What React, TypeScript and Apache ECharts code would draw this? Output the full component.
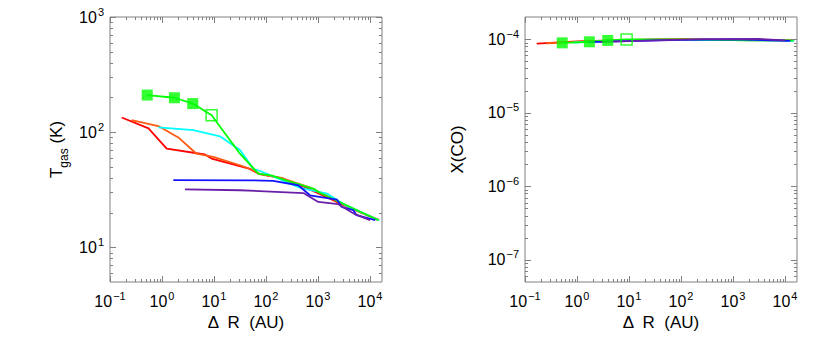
import React, { useEffect, useRef } from 'react';
import * as echarts from 'echarts';

// ---- axis ranges / ticks ----
const xRange: [number, number] = [0.1, 17000];
const tRange: [number, number] = [5, 1000];
const coRange: [number, number] = [5e-8, 2e-4];
const xMajorTicks = [0.1, 1, 10, 100, 1000, 10000];
const tMajorTicks = [10, 100, 1000];
const coMajorTicks = [1e-7, 1e-6, 1e-5, 1e-4];

// ---- left panel: T_gas (K) vs Delta R (AU) ----
const tRed = [[0.168, 134], [0.55, 108], [1.23, 72], [6.7, 64], [9, 59], [49, 48], [71, 43.7], [214, 39.5], [270, 37], [500, 34], [1000, 29.5], [3000, 23.5], [6000, 20.5], [14500, 17.2]];
const tOrange = [[0.26, 127], [0.85, 113], [2.06, 90], [4.6, 65], [9.7, 61], [31.6, 51.6], [49, 48], [80, 43], [200, 40], [300, 37.5], [700, 33], [1500, 28], [4000, 22], [15000, 17.3]];
const tCyan = [[0.85, 110], [4, 104], [13, 92], [31.6, 70], [57, 48], [77, 46], [214, 38], [447, 33], [1480, 29.3], [3500, 23], [15000, 17.2]];
const tGreen = [[0.52, 210], [1.73, 199], [3.9, 177], [9, 140], [31.6, 65], [71, 43.7], [130, 42], [250, 38], [815, 32.4], [1100, 29.6], [3000, 24], [14500, 17.2]];
const tBlue = [[1.65, 38.3], [50, 38.2], [137, 37.8], [417, 34.6], [700, 28.3], [2300, 26], [2860, 22.4], [4800, 21], [5500, 19], [12600, 17.2]];
const tPurple = [[2.77, 31.8], [31.6, 31.3], [525, 29.6], [1013, 24.8], [2450, 23.7], [5130, 19.4], [10000, 17.2]];
const tFilled = [[0.52, 210], [1.73, 199], [3.9, 177]];
const tOpen = [[9, 140]];

// ---- right panel: X(CO) vs Delta R (AU) ----
const coRed = [[0.168, 8.7e-5], [1, 9.3e-5], [10, 9.8e-5], [100, 1.0e-4], [1000, 9.8e-5], [14500, 9.6e-5]];
const coOrange = [[0.26, 8.8e-5], [1, 9.2e-5], [10, 9.7e-5], [100, 9.9e-5], [1000, 9.7e-5], [15000, 9.6e-5]];
const coCyan = [[0.85, 9.0e-5], [10, 9.6e-5], [100, 9.8e-5], [1000, 9.7e-5], [15000, 9.5e-5]];
const coGreen = [[0.52, 8.9e-5], [1.73, 9.2e-5], [3.9, 9.6e-5], [9, 9.9e-5], [100, 9.9e-5], [2000, 9.6e-5], [14500, 9.6e-5]];
const coBlue = [[1.65, 9.1e-5], [10, 9.4e-5], [100, 9.8e-5], [1000, 9.9e-5], [12600, 9.5e-5]];
const coPurple = [[2.77, 9.2e-5], [30, 9.6e-5], [300, 1.0e-4], [3000, 1.01e-4], [10000, 9.6e-5]];
const coFilled = [[0.52, 8.9e-5], [1.73, 9.2e-5], [3.9, 9.6e-5]];
const coOpen = [[9, 9.9e-5]];

const colors = {
  red: '#ff0000',
  orange: '#ff5a10',
  cyan: '#00ffff',
  green: '#00ff00',
  blue: '#1414ff',
  purple: '#6a1fa8',
};

const FONT = 'Liberation Sans, Arial, sans-serif';
const FRAME = '#808080';

function minorTicks(lo: number, hi: number): number[] {
  const out: number[] = [];
  for (let n = Math.floor(Math.log10(lo)) - 1; n <= Math.ceil(Math.log10(hi)); n++) {
    for (let k = 2; k <= 9; k++) {
      const v = k * Math.pow(10, n);
      if (v > lo * 1.0001 && v < hi * 0.9999) out.push(v);
    }
  }
  return out;
}

function powLabel(val: number): string {
  const e = Math.log10(val);
  const r = Math.round(e);
  if (Math.abs(e - r) > 1e-6) return '';
  const exp = r < 0 ? '\u2212' + -r : String(r);
  return `{b|10}{s|${exp}}`;
}

const labelRich = {
  b: { fontSize: 16, lineHeight: 22, verticalAlign: 'middle', color: '#000', fontFamily: FONT },
  s: { fontSize: 11, lineHeight: 22, verticalAlign: 'top', color: '#000', fontFamily: FONT, padding: [0, 0, 0, 1] },
};

function tickSeries(idx: number, xr: [number, number], yr: [number, number], yMajor: number[]) {
  const data: number[][] = [];
  xMajorTicks.forEach((v) => data.push([v, yr[0], 0]));
  minorTicks(xr[0], xr[1]).forEach((v) => data.push([v, yr[0], 1]));
  yMajor.forEach((v) => data.push([xr[0], v, 2]));
  minorTicks(yr[0], yr[1]).forEach((v) => data.push([xr[0], v, 3]));
  return {
    type: 'custom',
    xAxisIndex: idx,
    yAxisIndex: idx,
    silent: true,
    z: 10,
    encode: { x: 0, y: 1 },
    data,
    renderItem: (params: any, api: any) => {
      const v = api.value(0);
      const w = api.value(1);
      const kind = api.value(2);
      const len = kind % 2 === 0 ? 6 : 3;
      const style = { stroke: FRAME, lineWidth: 1 };
      if (kind < 2) {
        const b = api.coord([v, yr[0]]);
        const t = api.coord([v, yr[1]]);
        const x = Math.round(b[0]) + 0.5;
        return {
          type: 'group',
          children: [
            { type: 'line', shape: { x1: x, y1: b[1], x2: x, y2: b[1] - len }, style },
            { type: 'line', shape: { x1: x, y1: t[1], x2: x, y2: t[1] + len }, style },
          ],
        };
      }
      const l = api.coord([xr[0], w]);
      const r = api.coord([xr[1], w]);
      const y = Math.round(l[1]) + 0.5;
      return {
        type: 'group',
        children: [
          { type: 'line', shape: { x1: l[0], y1: y, x2: l[0] + len, y2: y }, style },
          { type: 'line', shape: { x1: r[0], y1: y, x2: r[0] - len, y2: y }, style },
        ],
      };
    },
  };
}

function lineSeries(idx: number, data: number[][], color: string) {
  return {
    type: 'line',
    xAxisIndex: idx,
    yAxisIndex: idx,
    data,
    symbol: 'none',
    silent: true,
    lineStyle: { color, width: 1.8 },
    z: 3,
  };
}

function markerSeries(idx: number, filled: number[][], open: number[][]) {
  return [
    {
      type: 'scatter',
      xAxisIndex: idx,
      yAxisIndex: idx,
      data: filled,
      symbol: 'rect',
      symbolSize: 11,
      silent: true,
      itemStyle: { color: colors.green },
      z: 4,
    },
    {
      type: 'scatter',
      xAxisIndex: idx,
      yAxisIndex: idx,
      data: open,
      symbol: 'rect',
      symbolSize: 11,
      silent: true,
      itemStyle: { color: 'rgba(255,255,255,0)', borderColor: colors.green, borderWidth: 1.5 },
      z: 4,
    },
  ];
}

function xAxisCfg(idx: number) {
  return {
    type: 'log',
    logBase: 10,
    gridIndex: idx,
    min: xRange[0],
    max: xRange[1],
    axisLine: { show: false },
    axisTick: { show: false },
    splitLine: { show: false },
    axisLabel: { formatter: powLabel, rich: labelRich, margin: 8, color: '#000' },
    name: '\u0394  R  (AU)',
    nameLocation: 'middle',
    nameGap: 31,
    nameTextStyle: { fontSize: 17, color: '#000', fontFamily: FONT },
  };
}

export default function App() {
  const ref = useRef<HTMLDivElement>(null);
  useEffect(() => {
    if (!ref.current) return;
    const chart = echarts.init(ref.current, undefined, { renderer: 'svg' });
    const option: any = {
      animation: false,
      backgroundColor: '#ffffff',
      textStyle: { fontFamily: FONT },
      grid: [
        { left: 110, top: 17, width: 272, height: 265, show: true, borderColor: FRAME, borderWidth: 1, backgroundColor: 'transparent' },
        { left: 525, top: 17, width: 272, height: 265, show: true, borderColor: FRAME, borderWidth: 1, backgroundColor: 'transparent' },
      ],
      xAxis: [xAxisCfg(0), xAxisCfg(1)],
      yAxis: [
        {
          type: 'log',
          logBase: 10,
          gridIndex: 0,
          min: tRange[0],
          max: tRange[1],
          axisLine: { show: false },
          axisTick: { show: false },
          splitLine: { show: false },
          axisLabel: { formatter: powLabel, rich: labelRich, margin: 6, color: '#000' },
          name: '{a|T}{g|gas}{a| (K)}',
          nameLocation: 'middle',
          nameGap: 40,
          nameTextStyle: {
            color: '#000',
            rich: {
              a: { fontSize: 17, lineHeight: 22, verticalAlign: 'top', color: '#000', fontFamily: FONT },
              g: { fontSize: 12, lineHeight: 22, verticalAlign: 'bottom', color: '#000', fontFamily: FONT },
            },
          },
        },
        {
          type: 'log',
          logBase: 10,
          gridIndex: 1,
          min: coRange[0],
          max: coRange[1],
          axisLine: { show: false },
          axisTick: { show: false },
          splitLine: { show: false },
          axisLabel: { formatter: powLabel, rich: labelRich, margin: 6, color: '#000' },
          name: 'X(CO)',
          nameLocation: 'middle',
          nameGap: 59,
          nameTextStyle: { fontSize: 17, color: '#000', fontFamily: FONT },
        },
      ],
      series: [
        tickSeries(0, xRange, tRange, tMajorTicks),
        tickSeries(1, xRange, coRange, coMajorTicks),
        lineSeries(0, tRed, colors.red),
        lineSeries(0, tOrange, colors.orange),
        lineSeries(0, tCyan, colors.cyan),
        lineSeries(0, tGreen, colors.green),
        lineSeries(0, tBlue, colors.blue),
        lineSeries(0, tPurple, colors.purple),
        ...markerSeries(0, tFilled, tOpen),
        lineSeries(1, coRed, colors.red),
        lineSeries(1, coOrange, colors.orange),
        lineSeries(1, coCyan, colors.cyan),
        lineSeries(1, coGreen, colors.green),
        lineSeries(1, coBlue, colors.blue),
        lineSeries(1, coPurple, colors.purple),
        ...markerSeries(1, coFilled, coOpen),
      ],
    };
    chart.setOption(option);
    return () => chart.dispose();
  }, []);
  return (
    <div
      ref={ref}
      style={{ position: 'fixed', left: 0, top: 0, width: 830, height: 352, background: '#fff' }}
    />
  );
}
